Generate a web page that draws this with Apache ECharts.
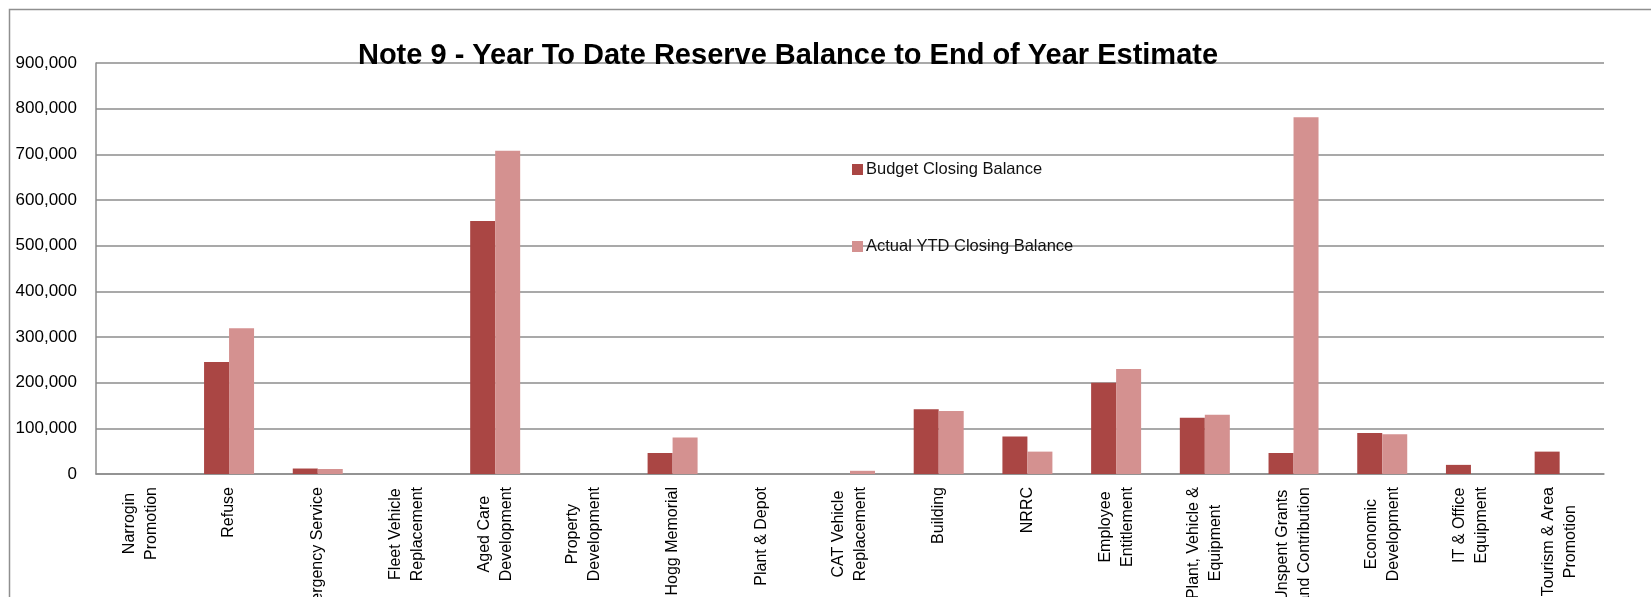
<!DOCTYPE html>
<html>
<head>
<meta charset="utf-8">
<title>Note 9 - Reserve Balance</title>
<script src="https://cdn.jsdelivr.net/npm/echarts@6/dist/echarts.min.js"></script>
<style>
  html, body { margin: 0; padding: 0; background: #fff; }
  #chart { width: 1651px; height: 597px; }
</style>
</head>
<body>
<div id="chart"></div>
<script>
// reserve names (line breaks as wrapped in the original)
var categories = [
  'Narrogin\nPromotion',
  'Refuse',
  'Emergency Service',
  'Fleet Vehicle\nReplacement',
  'Aged Care\nDevelopment',
  'Property\nDevelopment',
  'Hogg Memorial',
  'Plant & Depot',
  'CAT Vehicle\nReplacement',
  'Building',
  'NRRC',
  'Employee\nEntitlement',
  'Plant, Vehicle &\nEquipment',
  'Unspent Grants\nand Contribution',
  'Economic\nDevelopment',
  'IT & Office\nEquipment',
  'Tourism & Area\nPromotion'
];
var budgetClosing = [0, 245000, 12000, 0, 554000, 0, 46000, 0, 0, 142000, 82000, 200000, 123000, 46000, 90000, 20000, 49000];
var actualClosing = [0, 319000, 11000, 0, 708000, 0, 80000, 0, 7000, 138000, 49000, 230000, 130000, 781000, 87000, 0, 0];
var seriesNames = ['Budget Closing Balance', 'Actual YTD Closing Balance'];
var yMax = 900000;
var yStep = 100000;

var chart = echarts.init(document.getElementById('chart'));
var font = 'Liberation Sans';

var option = {
  animation: false,
  backgroundColor: '#fff',
  // outer chart frame, runs off the picture right and bottom
  graphic: [{
    type: 'rect',
    left: 7,
    top: 7,
    shape: { width: 1700, height: 700 },
    style: { fill: 'none', stroke: '#8f8f8f', lineWidth: 1.5 },
    silent: true
  }],
  title: {
    text: 'Note 9 - Year To Date Reserve Balance to End of Year Estimate',
    left: 783,
    top: 36,
    textAlign: 'center',
    textStyle: {
      fontFamily: font,
      fontSize: 29,
      fontWeight: 'bold',
      color: '#000'
    }
  },
  legend: {
    orient: 'vertical',
    left: 847,
    top: 156,
    itemWidth: 11,
    itemHeight: 11,
    itemGap: 60,
    icon: 'rect',
    textStyle: { fontFamily: font, fontSize: 16.5, color: '#111', padding: [0, 0, 0, -2] },
    data: seriesNames
  },
  grid: {
    left: 96,
    right: 47,
    top: 63,
    bottom: 123,
    containLabel: false,
    outerBoundsMode: 'none'
  },
  xAxis: {
    type: 'category',
    data: categories,
    axisTick: { show: false },
    axisLine: { lineStyle: { color: '#8c8c8c', width: 1.5 } },
    axisLabel: {
      interval: 0,
      rotate: 90,
      margin: 13,
      color: '#000',
      formatter: function (val) {
        return val.split('\n').map(function (s) { return '{c|' + s + '}'; }).join('\n');
      },
      rich: {
        c: { align: 'center', fontFamily: font, fontSize: 16, lineHeight: 22, color: '#000' }
      }
    }
  },
  yAxis: {
    type: 'value',
    min: 0,
    max: yMax,
    interval: yStep,
    axisLine: { show: true, lineStyle: { color: '#8c8c8c', width: 1.5 } },
    axisTick: { show: false },
    splitLine: { lineStyle: { color: '#8c8c8c', width: 1.5 } },
    axisLabel: {
      margin: 19,
      color: '#000',
      fontFamily: font,
      fontSize: 17,
      formatter: function (v) { return v.toLocaleString('en-US'); }
    }
  },
  series: [
    {
      name: seriesNames[0],
      type: 'bar',
      data: budgetClosing,
      barWidth: 25,
      barGap: '0%',
      itemStyle: { color: '#aa4644' }
    },
    {
      name: seriesNames[1],
      type: 'bar',
      data: actualClosing,
      barWidth: 25,
      barGap: '0%',
      itemStyle: { color: '#d49190' }
    }
  ]
};
chart.setOption(option);
</script>
</body>
</html>
